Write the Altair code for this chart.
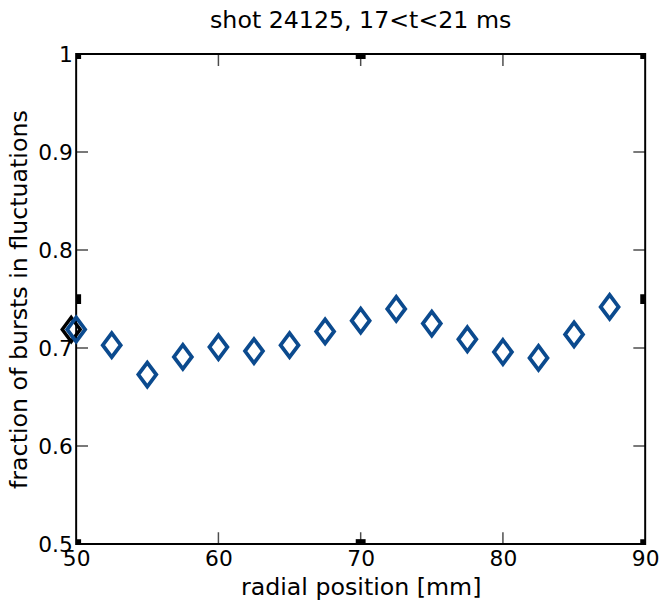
import altair as alt
import pandas as pd

radial = [50, 52.5, 55, 57.5, 60, 62.5, 65, 67.5, 70, 72.5, 75, 77.5, 80, 82.5, 85, 87.5]
fraction = [0.719, 0.703, 0.673, 0.691, 0.701, 0.697, 0.703, 0.717, 0.728, 0.740,
            0.725, 0.709, 0.696, 0.690, 0.714, 0.742]

x_ticks = [50, 60, 70, 80, 90]
y_ticks = [0.5, 0.6, 0.7, 0.8, 0.9, 1.0]
x_dom = [50, 90]
y_dom = [0.5, 1.0]

# corner / midpoint markers on the box
box_x = [50, 90, 70, 70, 50, 50, 90, 90]
box_y = [0.75, 0.75, 0.5, 1.0, 0.5, 1.0, 0.5, 1.0]

df = pd.DataFrame({"r": radial, "f": fraction})
df_first = df.iloc[:1]

xt_rows = []
for v in x_ticks[1:-1]:
    for yy in y_dom:
        xt_rows.append({"x": v, "y": yy})
df_xt = pd.DataFrame(xt_rows)
yt_rows = []
for v in y_ticks[1:-1]:
    for xx in x_dom:
        yt_rows.append({"x": xx, "y": v})
df_yt = pd.DataFrame(yt_rows)
df_box = pd.DataFrame({"x": box_x, "y": box_y})

FONT = "DejaVu Sans"
diamond = "M0,-1.34L1,0L0,1.34L-1,0Z"

xscale = alt.Scale(domain=x_dom, nice=False, zero=False)
yscale = alt.Scale(domain=y_dom, nice=False, zero=False)

xaxis = alt.Axis(values=x_ticks, title="radial position [mm]", grid=False, domain=False,
                 tickSize=0, labelPadding=5, labelFontSize=22, labelFont=FONT,
                 labelColor="black", titleFontSize=24, titleFont=FONT, titleFontWeight="normal",
                 titleColor="black", titleY=44, titleBaseline="middle", labelFlush=False)
yaxis = alt.Axis(values=y_ticks, title="fraction of bursts in fluctuations", grid=False,
                 domain=False, tickSize=0, labelPadding=4, labelFontSize=22, labelFont=FONT,
                 labelColor="black", titleFontSize=24, titleFont=FONT, titleFontWeight="normal",
                 titleColor="black", titleX=-57, titleBaseline="middle", labelFlush=False,
                 labelExpr="datum.value == 1 ? '1' : format(datum.value, '.1f')")

base_x = alt.X("r:Q", scale=xscale, axis=xaxis)
base_y = alt.Y("f:Q", scale=yscale, axis=yaxis)

shadow = alt.Chart(df_first).mark_point(
    shape=diamond, size=330, filled=False, stroke="black", strokeWidth=3.5,
    xOffset=-5, opacity=1
).encode(x=base_x, y=base_y)

points = alt.Chart(df).mark_point(
    shape=diamond, size=330, filled=False, stroke="#0b4a8e", strokeWidth=3.8, opacity=1
).encode(x=base_x, y=base_y)

xt = alt.Chart(df_xt).mark_tick(orient="vertical", size=24, thickness=1.5, color="black",
                                clip=True).encode(
    x=alt.X("x:Q", scale=xscale), y=alt.Y("y:Q", scale=yscale))
yt = alt.Chart(df_yt).mark_tick(orient="horizontal", size=24, thickness=1.5, color="black",
                                clip=True).encode(
    x=alt.X("x:Q", scale=xscale), y=alt.Y("y:Q", scale=yscale))
box = alt.Chart(df_box).mark_square(size=100, color="black", opacity=1, clip=True).encode(
    x=alt.X("x:Q", scale=xscale), y=alt.Y("y:Q", scale=yscale))

chart = alt.layer(xt, yt, box, shadow, points).properties(
    width=576, height=496,
    title=alt.TitleParams("shot 24125, 17<t<21 ms", fontSize=24, font=FONT,
                          fontWeight="normal", color="black", anchor="middle",
                          offset=10),
    autosize=alt.AutoSizeParams(type="none"),
    padding={"left": 69, "top": 43, "right": 15, "bottom": 60},
).configure(background="white").configure_view(stroke="black", strokeWidth=2)

chart.save("out.html", embed_options={"renderer": "svg", "actions": False})
